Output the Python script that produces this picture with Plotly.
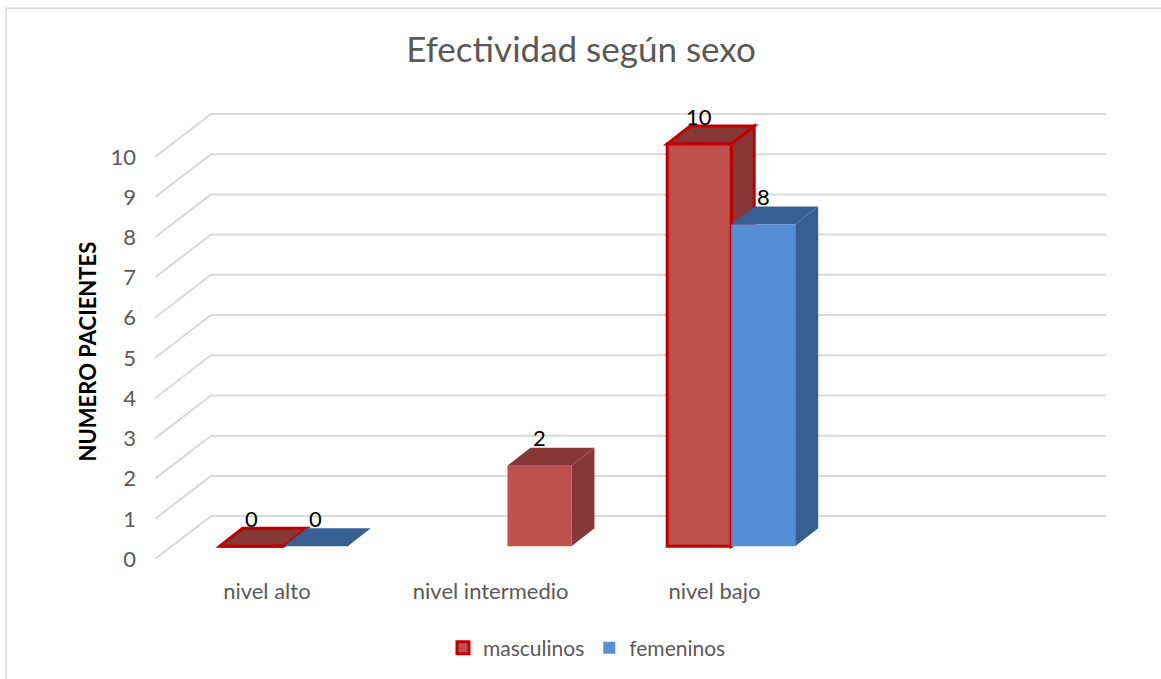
import plotly.graph_objects as go

# ---- data -------------------------------------------------------------
categorias = ["nivel alto", "nivel intermedio", "nivel bajo", ""]
masc_x = [0, 1, 2]
masculinos = [0, 2, 10]
fem_x = [0, 2]
femeninos = [0, 8]
ticks_y = list(range(0, 11))

# ---- geometry of the pseudo-3D box ------------------------------------
W, H = 1161, 679
L_PX, R_PX, T_PX, B_PX = 155, 1106, 100, 572
ZERO_PX = 560                      # pixel row of value 0 on the front edge
CAT_PX = (R_PX - L_PX) / 4.25      # pixels per category
UNIT_PX = 40.3                     # pixels per unit of value

x_range = [-0.5, 3.75]
y_range = [-(B_PX - ZERO_PX) / UNIT_PX, (ZERO_PX - T_PX) / UNIT_PX]

DX = 56 / CAT_PX                   # floor depth, category units
DY = 43 / UNIT_PX                  # floor depth, value units
BX, BY = 0.3 * DX, 0.3 * DY        # plane where the bars stand
dxb, dyb = 23 / CAT_PX, 18 / UNIT_PX   # bar depth
BW = 64 / CAT_PX                   # bar width

RED_FRONT, RED_DARK, RED_LINE = "#C0504D", "#873735", "#C00000"
BLUE_FRONT, BLUE_DARK = "#558ED5", "#375F92"
GRID = "#D9D9D9"
TXT = "#595959"
FONT = "Lato"

# per-bar placement: offset relative to the category position
masc_off = [-BW, 0, -BW]
masc_line = [3, 0, 3]
fem_off = [0, 0]

fig = go.Figure()

fig.add_trace(go.Bar(
    name="masculinos", x=masc_x, y=masculinos, offset=masc_off, width=BW,
    marker=dict(color=RED_FRONT, line=dict(color=RED_LINE, width=masc_line)),
    xaxis="x2", yaxis="y2", hoverinfo="skip",
))
fig.add_trace(go.Bar(
    name="femeninos", x=fem_x, y=femeninos, offset=fem_off, width=BW,
    marker=dict(color=BLUE_FRONT, line=dict(width=0)),
    xaxis="x2", yaxis="y2", hoverinfo="skip",
))

shapes = []
# back wall grid lines and their diagonals on the side wall
for v in ticks_y:
    shapes.append(dict(type="line", xref="x", yref="y", layer="below",
                       x0=-0.5 + DX, x1=x_range[1], y0=v + DY, y1=v + DY,
                       line=dict(color=GRID, width=2)))
    shapes.append(dict(type="line", xref="x", yref="y", layer="below",
                       x0=-0.5, x1=-0.5 + DX, y0=v, y1=v + DY,
                       line=dict(color=GRID, width=2)))


def faces(x0, v, top, side, lw):
    x1 = x0 + BW
    ln = dict(color=RED_LINE, width=lw) if lw else dict(width=0)
    out = []
    out.append(dict(type="path", xref="x2", yref="y2", layer="below",
                    path=f"M{x1},0 L{x1},{v} L{x1 + dxb},{v + dyb} L{x1 + dxb},{dyb} Z",
                    fillcolor=side, line=ln))
    out.append(dict(type="path", xref="x2", yref="y2", layer="below",
                    path=f"M{x0},{v} L{x1},{v} L{x1 + dxb},{v + dyb} L{x0 + dxb},{v + dyb} Z",
                    fillcolor=top, line=ln))
    return out


annotations = []
for xc, v, off, lw in zip(masc_x, masculinos, masc_off, masc_line):
    shapes += faces(xc + off, v, RED_DARK, RED_DARK, lw)
    annotations.append(dict(xref="x2", yref="y2", x=xc + off + BW / 2, y=v + dyb,
                            text=str(v), showarrow=False, yanchor="middle", yshift=10,
                            font=dict(family=FONT, size=22, color="#000000")))
for xc, v, off in zip(fem_x, femeninos, fem_off):
    shapes += faces(xc + off, v, BLUE_DARK, BLUE_DARK, 0)
    annotations.append(dict(xref="x2", yref="y2", x=xc + off + BW / 2, y=v + dyb,
                            text=str(v), showarrow=False, yanchor="middle", yshift=10,
                            font=dict(family=FONT, size=22, color="#000000")))

# chart border
shapes.append(dict(type="rect", xref="paper", yref="paper", layer="below",
                   x0=(6 - L_PX) / (R_PX - L_PX), x1=1.3,
                   y0=-0.4, y1=(B_PX - 8) / (B_PX - T_PX),
                   line=dict(color="#D9D9D9", width=1.5), fillcolor="rgba(0,0,0,0)"))

# y axis title
annotations.append(dict(xref="paper", yref="paper",
                        x=(87 - L_PX) / (R_PX - L_PX), y=(B_PX - 352) / (B_PX - T_PX),
                        text="<b>NUMERO PACIENTES</b>", textangle=-90, showarrow=False,
                        xanchor="center", yanchor="middle",
                        font=dict(family=FONT, size=22, color="#000000")))

fig.update_layout(
    width=W, height=H,
    margin=dict(l=L_PX, r=W - R_PX, t=T_PX, b=H - B_PX),
    paper_bgcolor="white", plot_bgcolor="white",
    title=dict(text="Efectividad según sexo", x=581 / W,
               xanchor="center", y=1 - 50 / H, yanchor="middle",
               font=dict(family=FONT, size=35, color=TXT)),
    showlegend=True,
    legend=dict(orientation="h", x=(587 - L_PX) / (R_PX - L_PX), xanchor="center",
                y=-(648 - B_PX) / (B_PX - T_PX), yanchor="middle",
                font=dict(family=FONT, size=21, color=TXT), itemwidth=30),
    barmode="overlay",
    xaxis=dict(range=x_range, tickvals=[0, 1, 2, 3], ticktext=categorias,
               showgrid=False, zeroline=False, showline=False, ticks="",
               tickfont=dict(family=FONT, size=22, color=TXT), ticklabelstandoff=5),
    yaxis=dict(range=y_range, tickvals=ticks_y, showgrid=False, zeroline=False,
               showline=False, ticks="", ticklabelstandoff=18,
               tickfont=dict(family=FONT, size=22, color=TXT)),
    xaxis2=dict(range=[x_range[0] - BX, x_range[1] - BX], overlaying="x",
                visible=False),
    yaxis2=dict(range=[y_range[0] - BY, y_range[1] - BY], overlaying="y",
                anchor="x2", visible=False),
    shapes=shapes,
    annotations=annotations,
)

fig.write_html("out.html")
